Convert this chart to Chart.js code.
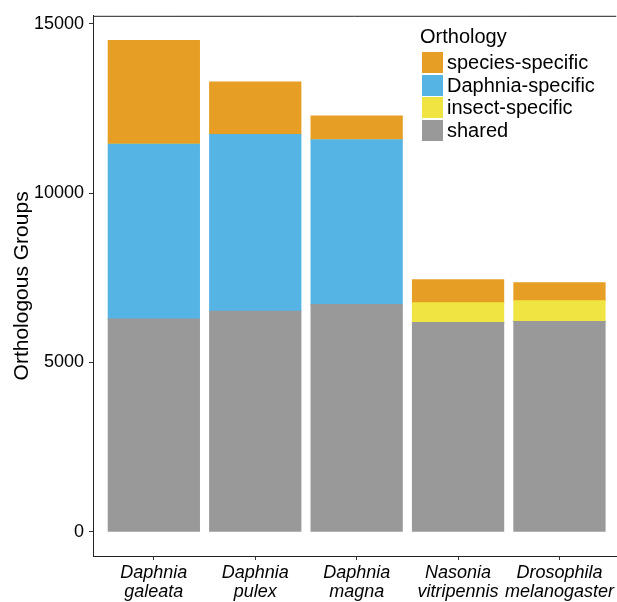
<!DOCTYPE html>
<html>
<head>
<meta charset="utf-8">
<script src="https://cdn.jsdelivr.net/npm/chart.js@4"></script>
<style>
  body { margin: 0; background: #fff; }
  #wrap { position: relative; width: 617px; height: 602px; }
  #legend {
    position: absolute; left: 420px; top: 24px;
    font-family: "Liberation Sans", Arial, Helvetica, sans-serif;
    color: #000;
  }
  #legend .ttl { font-size: 20px; line-height: 24px; margin-bottom: 3px; }
  #legend .row { display: flex; align-items: center; height: 22.7px; font-size: 20px; }
  #legend .sw { width: 21px; height: 21px; margin: 0 4px 0 2px; }
</style>
</head>
<body>
<div id="wrap">
  <canvas id="chart" width="617" height="602"></canvas>
  <div id="legend"></div>
</div>
<script>
const species = ["Daphnia galeata", "Daphnia pulex", "Daphnia magna", "Nasonia vitripennis", "Drosophila melanogaster"];
const shared = [6280, 6510, 6710, 6180, 6210];
const daphniaSpecific = [5160, 5220, 4865, 0, 0];
const insectSpecific = [0, 0, 0, 585, 614];
const speciesSpecific = [3065, 1550, 705, 675, 528];
const yTicks = [0, 5000, 10000, 15000];

const font = '"Liberation Sans", Arial, Helvetica, sans-serif';

// stacked bottom to top
const series = [
  { label: "shared", data: shared, color: "#999999" },
  { label: "Daphnia-specific", data: daphniaSpecific, color: "#56B4E5" },
  { label: "insect-specific", data: insectSpecific, color: "#F0E442" },
  { label: "species-specific", data: speciesSpecific, color: "#E69F24" }
];
const legendOrder = ["species-specific", "Daphnia-specific", "insect-specific", "shared"];

const datasets = series.map(s => ({
  label: s.label,
  data: s.data.map((v, i) => ({ x: i + 1, y: v })),
  backgroundColor: s.color,
  borderWidth: 0,
  inflateAmount: 0.5,
  stack: "all",
  barPercentage: 0.9,
  categoryPercentage: 1.0
}));

const legend = document.getElementById("legend");
legend.innerHTML = '<div class="ttl">Orthology</div>' +
  legendOrder.map(name => {
    const s = series.find(d => d.label === name);
    return `<div class="row"><div class="sw" style="background:${s.color}"></div>${s.label}</div>`;
  }).join("");

const topLine = {
  id: "topLine",
  afterDraw(chart) {
    const { ctx, chartArea } = chart;
    ctx.save();
    ctx.strokeStyle = "#222";
    ctx.lineWidth = 1;
    ctx.beginPath();
    ctx.moveTo(chartArea.left, chartArea.top + 0.5);
    ctx.lineTo(chartArea.right, chartArea.top + 0.5);
    ctx.stroke();
    ctx.restore();
  }
};

new Chart(document.getElementById("chart").getContext("2d"), {
  type: "bar",
  data: { datasets },
  plugins: [topLine],
  options: {
    responsive: false,
    animation: false,
    layout: { padding: { top: 12, right: 0, left: 0, bottom: 0 } },
    plugins: { legend: { display: false }, tooltip: { enabled: false } },
    scales: {
      x: {
        type: "linear",
        offset: false,
        min: 0.4,
        max: 5.56,
        afterBuildTicks: (scale) => { scale.ticks = species.map((s, i) => ({ value: i + 1 })); },
        afterFit: (scale) => { scale.height = 46; },
        grid: { offset: false, drawOnChartArea: false, drawTicks: true, tickLength: 4, tickColor: "#333" },
        border: { color: "#222", width: 1 },
        ticks: {
          color: "#000",
          padding: 3,
          maxRotation: 0,
          autoSkip: false,
          font: { family: font, size: 18, style: "italic", lineHeight: 1.08 },
          callback: (v) => species[v - 1] ? species[v - 1].split(" ") : ""
        }
      },
      y: {
        stacked: true,
        min: -715,
        max: 15235,
        afterBuildTicks: (scale) => { scale.ticks = yTicks.map(v => ({ value: v })); },
        afterFit: (scale) => { scale.width = 93; },
        grid: { drawOnChartArea: false, drawTicks: true, tickLength: 4, tickColor: "#333" },
        border: { color: "#222", width: 1 },
        ticks: {
          color: "#000",
          padding: 5,
          font: { family: font, size: 18 },
          callback: (v) => String(v)
        },
        title: {
          display: true,
          text: "Orthologous Groups",
          color: "#000",
          padding: { top: 10, bottom: 0 },
          font: { family: font, size: 21 }
        }
      }
    }
  }
});
</script>
</body>
</html>
